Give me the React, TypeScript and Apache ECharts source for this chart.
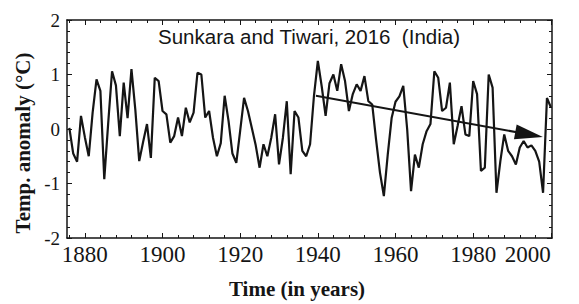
import React, { useEffect, useRef } from "react";
import * as echarts from "echarts";

// Annual temperature anomaly (°C), India
const startYear = 1876;
const anomalies = [
  0.02, -0.45, -0.6, 0.24, // 1876-1879
  -0.15, -0.5, 0.3, 0.91, 0.7, -0.92, 0.1, 1.06, 0.8, -0.13, // 1880s
  0.85, 0.2, 1.1, 0.35, -0.59, -0.24, 0.09, -0.53, 0.94, 0.88, // 1890s
  0.33, 0.27, -0.25, -0.13, 0.21, -0.13, 0.39, 0.12, 0.3, 1.03, // 1900s
  1.0, 0.21, 0.33, -0.16, -0.5, -0.26, 0.61, 0.15, -0.45, -0.62, // 1910s
  -0.03, 0.57, 0.33, 0.02, -0.3, -0.71, -0.28, -0.5, -0.16, 0.27, // 1920s
  -0.65, -0.16, 0.51, -0.83, 0.33, 0.21, -0.4, -0.5, -0.28, 0.61, // 1930s
  1.25, 0.78, 0.24, 0.84, 1.0, 0.7, 1.19, 0.88, 0.33, 0.64, // 1940s
  0.82, 0.7, 0.97, 0.51, 0.45, -0.2, -0.8, -1.23, -0.47, 0.2, // 1950s
  0.5, 0.6, 0.79, 0.0, -1.14, -0.47, -0.71, -0.28, -0.04, 0.09, // 1960s
  1.06, 0.94, 0.33, 0.39, 0.85, -0.28, 0.06, 0.42, -0.1, -0.13, // 1970s
  0.88, 0.64, -0.77, -0.71, 1.0, 0.76, -1.17, -0.59, -0.1, -0.4, // 1980s
  -0.5, -0.65, -0.34, -0.22, -0.34, -0.3, -0.4, -0.6, -1.17, 0.57, // 1990s
  0.4, // 2000
];

const majorYears = [1880, 1900, 1920, 1940, 1960, 1980, 2000];
const minorYears = [
  1876, 1884, 1888, 1892, 1896, 1904, 1908, 1912, 1916, 1924, 1928, 1932,
  1936, 1944, 1948, 1952, 1956, 1964, 1968, 1972, 1976, 1984, 1988, 1992, 1996,
];
const trendStart = [1939.5, 0.61];
const trendEnd = [1994.4, -0.1];

const titleText = "Sunkara and Tiwari, 2016  (India)";
const yName = "Temp. anomaly (°C)";
const xName = "Time (in years)";

const X_MIN = 1875.4;
const X_MAX = 2000.3;

export default function App() {
  const ref = useRef<HTMLDivElement>(null);

  useEffect(() => {
    document.body.style.margin = "0";
    if (!ref.current) return;
    const chart = echarts.init(ref.current, undefined, { renderer: "svg" });
    const seriesData = anomalies.map((v, i) => [startYear + i, v]);
    const ink = "#151515";
    const serif = "Liberation Serif";

    const baseX = (position: "bottom" | "top", ticks: number[], len: number, labels: boolean, line: boolean) => ({
      type: "value",
      position,
      min: X_MIN,
      max: X_MAX,
      axisLine: { show: line, onZero: false, lineStyle: { color: ink, width: 1.5 } },
      axisTick: { show: true, inside: true, length: len, customValues: ticks, lineStyle: { color: ink, width: 1 } },
      axisLabel: labels
        ? {
            show: true,
            customValues: majorYears,
            formatter: (v: number) => String(Math.round(v)),
            fontFamily: serif,
            fontSize: 23,
            color: ink,
            margin: 5,
            alignMaxLabel: "right",
          }
        : { show: false },
      splitLine: { show: false },
    });

    const baseY = (position: "left" | "right", labels: boolean) => ({
      type: "value",
      position,
      min: -2,
      max: 2,
      interval: 1,
      axisLine: { show: true, onZero: false, lineStyle: { color: ink, width: 1.5 } },
      axisTick: { show: true, inside: true, length: 5, lineStyle: { color: ink, width: 1 } },
      minorTick: { show: true, splitNumber: 5, length: 3, lineStyle: { color: ink, width: 1 } },
      axisLabel: labels
        ? { show: true, fontFamily: serif, fontSize: 19, color: ink, margin: 7 }
        : { show: false },
      splitLine: { show: false },
    });

    chart.setOption({
      animation: false,
      backgroundColor: "#ffffff",
      grid: { left: 67, right: 27, top: 20, bottom: 66 },
      xAxis: [
        baseX("bottom", majorYears, 5, true, true),
        baseX("bottom", minorYears, 3, false, false),
        baseX("top", majorYears, 5, false, true),
        baseX("top", minorYears, 3, false, false),
      ],
      yAxis: [baseY("left", true), baseY("right", false)],
      graphic: [
        {
          type: "text",
          x: 158,
          y: 36,
          style: {
            text: titleText,
            fontFamily: "Liberation Sans",
            fontSize: 20.5,
            fill: ink,
            verticalAlign: "middle",
            align: "left",
          },
        },
        {
          type: "text",
          x: 23,
          y: 143,
          rotation: Math.PI / 2,
          style: {
            text: yName,
            fontFamily: serif,
            fontWeight: "bold",
            fontSize: 21,
            fill: ink,
            align: "center",
            verticalAlign: "middle",
          },
        },
        {
          type: "text",
          x: 297,
          y: 289,
          style: {
            text: xName,
            fontFamily: serif,
            fontWeight: "bold",
            fontSize: 21,
            fill: ink,
            align: "center",
            verticalAlign: "middle",
          },
        },
      ],
      series: [
        {
          type: "line",
          xAxisIndex: 0,
          yAxisIndex: 0,
          data: seriesData,
          symbol: "none",
          lineStyle: { color: ink, width: 2.2 },
          markLine: {
            silent: true,
            label: { show: false },
            lineStyle: { color: ink, width: 2, type: "solid" },
            data: [
              [
                { coord: trendStart, symbol: "none", symbolSize: 0 },
                { coord: trendEnd, symbol: "triangle", symbolSize: [15, 28] },
              ],
            ],
          },
        },
      ],
    });
    return () => chart.dispose();
  }, []);

  return <div ref={ref} style={{ width: 579, height: 304 }} />;
}
